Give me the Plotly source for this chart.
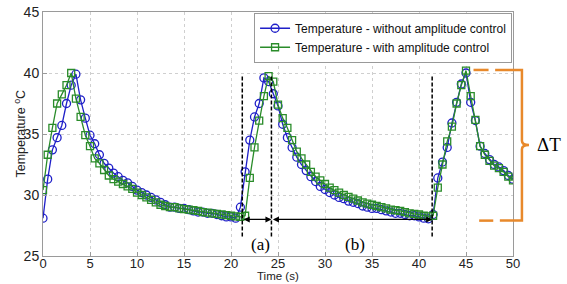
import plotly.graph_objects as go

# ---- data ----
time_s = [i * 0.5 for i in range(101)]

temp_without = [
    28.1, 31.3, 33.7, 34.7, 35.7, 37.5, 39.0, 39.9, 37.8, 36.3,
    34.9, 34.2, 33.3, 32.6, 32.2, 31.8, 31.5, 31.2, 31.0, 30.7,
    30.4, 30.2, 30.0, 29.8, 29.6, 29.4, 29.2, 29.0, 29.0, 28.9,
    28.9, 28.8, 28.7, 28.6, 28.6, 28.5, 28.5, 28.4, 28.3, 28.2,
    28.2, 28.1, 29.0, 31.9, 34.5, 36.4, 37.5, 39.6, 39.3, 38.3,
    37.3, 35.8, 34.7, 33.9, 33.1, 32.5, 32.0, 31.5, 31.1, 30.7,
    30.45, 30.2, 30.0, 29.8, 29.7, 29.5, 29.4, 29.3, 29.1, 29.0,
    28.9, 28.9, 28.8, 28.7, 28.6, 28.5, 28.5, 28.4, 28.3, 28.3,
    28.2, 28.1, 28.05, 28.4, 31.4, 32.7, 33.9, 35.9, 37.6, 39.1,
    40.0, 37.6, 36.1, 34.0, 33.4, 32.9, 32.5, 32.3, 32.0, 31.6,
    31.3,
]

temp_with = [
    30.4, 33.3, 35.5, 37.5, 38.25, 39.0, 40.0, 37.9, 36.4, 34.9,
    34.0, 33.0, 32.6, 32.05, 31.6, 31.3, 31.1, 30.9, 30.7, 30.5,
    30.2, 30.0, 29.8, 29.6, 29.4, 29.2, 29.1, 29.0, 29.0, 28.9,
    28.85, 28.8, 28.75, 28.7, 28.6, 28.55, 28.5, 28.45, 28.4, 28.35,
    28.3, 28.25, 28.2, 28.3, 31.4, 33.9, 36.1, 38.1, 39.75, 39.3,
    37.4, 36.3, 35.5, 34.5, 33.55, 33.0, 32.5, 31.9, 31.5, 31.2,
    30.9, 30.6, 30.4, 30.2, 30.0, 29.85, 29.7, 29.55, 29.4, 29.3,
    29.2, 29.1, 29.0, 28.9, 28.8, 28.75, 28.7, 28.6, 28.5, 28.45,
    28.4, 28.3, 28.25, 28.3, 30.6, 32.5, 34.4, 35.6, 37.5, 39.0,
    40.2, 38.1, 36.15, 34.0, 33.3, 32.8, 32.4, 32.2, 31.9, 31.5,
    31.2,
]

x_ticks = [0, 5, 10, 15, 20, 25, 30, 35, 40, 45, 50]
y_ticks = [25, 30, 35, 40, 45]

markers_t = [21.2, 24.3, 41.4]     # dashed vertical lines (s)
phase_labels = ["(a)", "(b)"]

X_RANGE = [0, 50]
Y_RANGE = [25, 45]

BLUE = "#1f1fc8"
GREEN = "#2a8c2a"
ORANGE = "#e8892b"
FONT = "Arial, Liberation Sans, sans-serif"
SERIF = "Times New Roman, Liberation Serif, serif"

fig = go.Figure()
fig.add_trace(go.Scatter(
    x=time_s, y=temp_without, mode="lines+markers",
    name="Temperature - without amplitude control",
    line=dict(color=BLUE, width=1.3),
    marker=dict(symbol="circle-open", size=8, color=BLUE, line=dict(width=1.3)),
))
fig.add_trace(go.Scatter(
    x=time_s, y=temp_with, mode="lines+markers",
    name="Temperature - with amplitude control",
    line=dict(color=GREEN, width=1.3),
    marker=dict(symbol="square-open", size=7, color=GREEN, line=dict(width=1.3)),
))

shapes = []
for t in markers_t:
    shapes.append(dict(type="line", xref="x", yref="y", x0=t, x1=t, y0=26.6, y1=39.8,
                       line=dict(color="black", width=1.5, dash="4px,2px")))

def pxx(t):
    return (t - X_RANGE[0]) / (X_RANGE[1] - X_RANGE[0])

def pxy(v):
    return (v - Y_RANGE[0]) / (Y_RANGE[1] - Y_RANGE[0])

# orange bracket (partly outside plot on right)
ob = dict(color=ORANGE, width=2.5)
top, bot, mid = 40.25, 27.9, 34.1
xr = 50.95
shapes += [
    dict(type="line", xref="paper", yref="paper", x0=pxx(45.8), x1=pxx(47.4),
         y0=pxy(top), y1=pxy(top), line=ob),
    dict(type="line", xref="paper", yref="paper", x0=pxx(46.4), x1=pxx(47.9),
         y0=pxy(bot), y1=pxy(bot), line=ob),
    dict(type="path", xref="paper", yref="paper",
         path=(f"M {pxx(48.1)},{pxy(top)} L {pxx(xr)},{pxy(top)} L {pxx(xr)},{pxy(mid + 0.35)} "
               f"Q {pxx(xr)},{pxy(mid)} {pxx(51.7)},{pxy(mid)} "
               f"Q {pxx(xr)},{pxy(mid)} {pxx(xr)},{pxy(mid - 0.35)} "
               f"L {pxx(xr)},{pxy(bot)} L {pxx(48.6)},{pxy(bot)}"),
         line=ob),
]

annotations = [
    dict(x=markers_t[1], y=28.0, ax=markers_t[0], ay=28.0, xref="x", yref="y",
         axref="x", ayref="y", text="", showarrow=True, arrowside="end+start",
         arrowhead=2, arrowsize=1, arrowwidth=1.2, arrowcolor="black"),
    dict(x=markers_t[2], y=28.0, ax=markers_t[1], ay=28.0, xref="x", yref="y",
         axref="x", ayref="y", text="", showarrow=True, arrowside="end+start",
         arrowhead=2, arrowsize=1, arrowwidth=1.2, arrowcolor="black"),
    dict(x=23.1, y=25.95, xref="x", yref="y", xanchor="center",
         text=phase_labels[0], showarrow=False, font=dict(family=SERIF, size=17, color="black")),
    dict(x=33.2, y=25.95, xref="x", yref="y", xanchor="center",
         text=phase_labels[1], showarrow=False, font=dict(family=SERIF, size=17, color="black")),
    dict(x=pxx(53.8), y=pxy(mid), xref="paper", yref="paper", xanchor="center",
         yanchor="middle", text="ΔT", showarrow=False,
         font=dict(family=SERIF, size=19, color="black")),
    # axis titles
    dict(x=0.5, y=-0.084, xref="paper", yref="paper", xanchor="center", yanchor="middle",
         text="Time (s)", showarrow=False, borderpad=0,
         font=dict(family=FONT, size=11.5, color="#222")),
    dict(x=-0.05, y=0.5, xref="paper", yref="paper", xanchor="center", yanchor="middle",
         textangle=-90, text="Temperature <sup>o</sup>C", showarrow=False,
         font=dict(family=FONT, size=12.5, color="#222")),
]

axis_common = dict(
    showgrid=True, gridcolor="#cfcfcf", griddash="dot", gridwidth=1,
    showline=True, linecolor="#9a9a9a", linewidth=1, mirror=True,
    ticks="inside", ticklen=4, tickcolor="#9a9a9a",
    zeroline=False, automargin=False,
)

fig.update_layout(
    width=567, height=284,
    margin=dict(l=43, r=54, t=12, b=28),
    paper_bgcolor="white", plot_bgcolor="white",
    font=dict(family=FONT, color="#222"),
    xaxis=dict(range=X_RANGE, tickvals=x_ticks, ticklabelstandoff=-5,
               tickfont=dict(family=FONT, size=13, color="#222"), **axis_common),
    yaxis=dict(range=Y_RANGE, tickvals=y_ticks,
               tickfont=dict(family=FONT, size=14, color="#222"), **axis_common),
    legend=dict(x=0.998, xanchor="right", y=0.997, yanchor="top",
                bgcolor="white", bordercolor="#999", borderwidth=1,
                font=dict(family=FONT, size=12, color="#111"),
                tracegroupgap=0, itemwidth=30),
    shapes=shapes,
    annotations=annotations,
    showlegend=True,
)

fig.write_html("out.html", config={"displayModeBar": False},
               post_script="document.body.style.margin='0';document.body.style.padding='0';")
